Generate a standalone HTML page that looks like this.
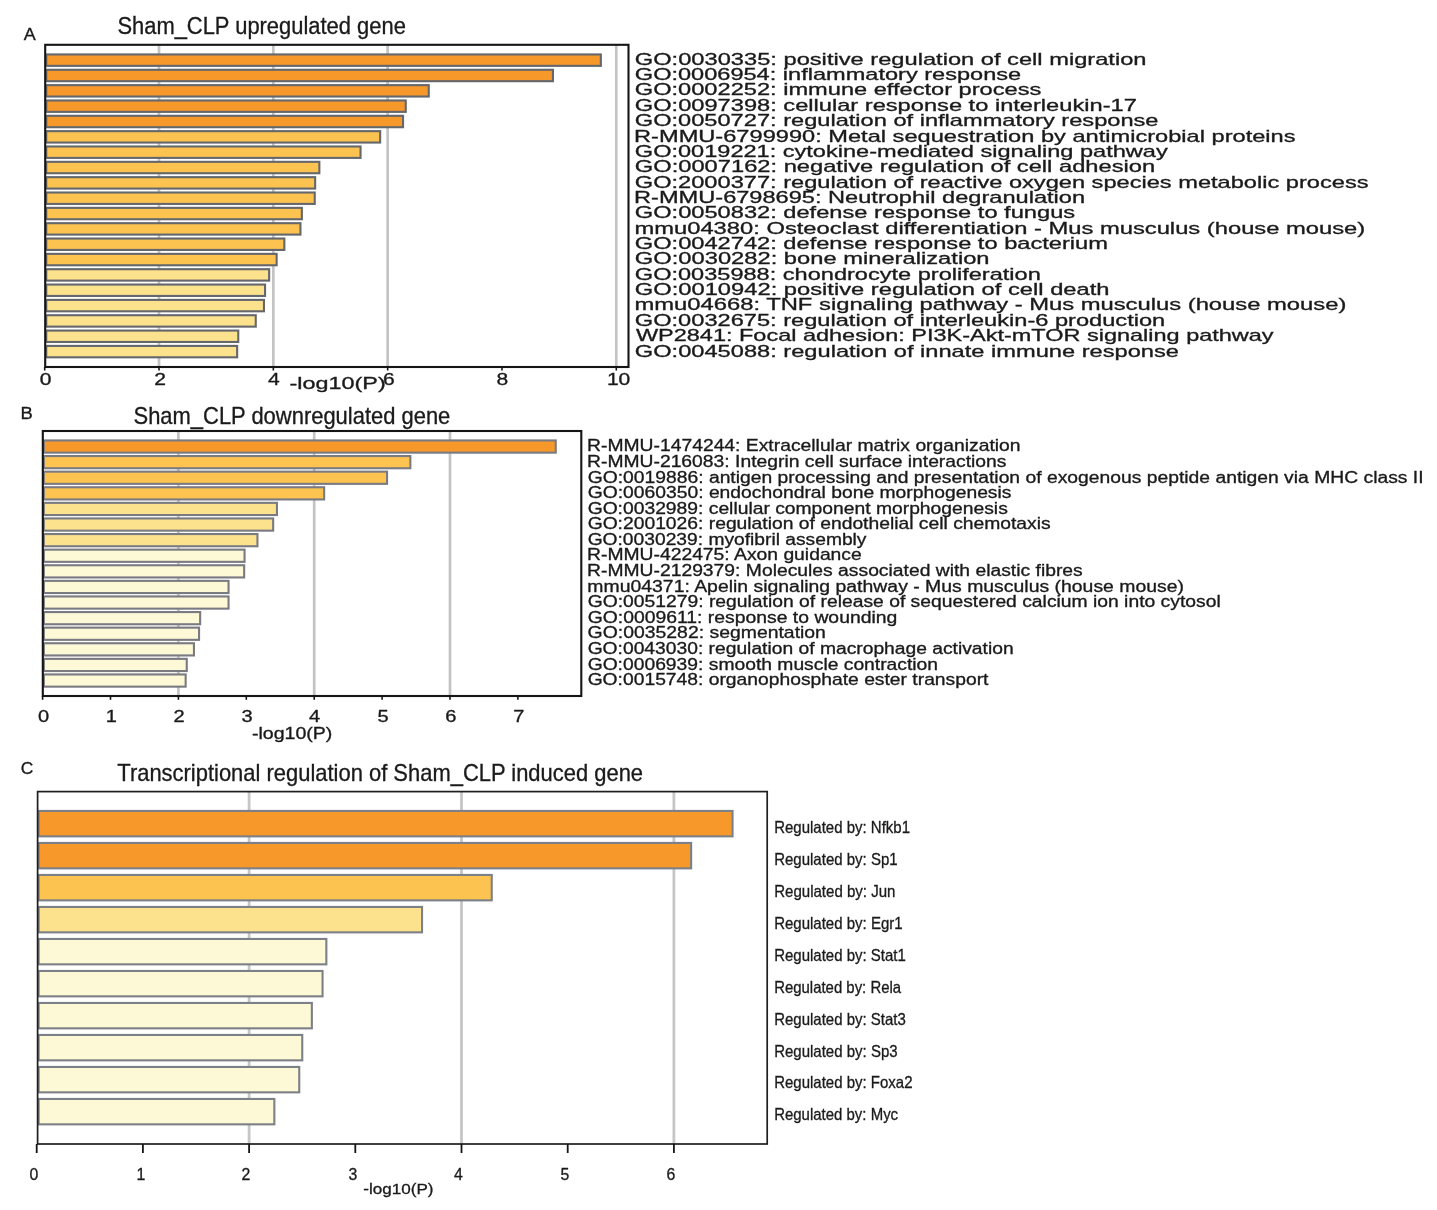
<!DOCTYPE html>
<html><head><meta charset="utf-8"><style>
html,body{margin:0;padding:0;background:#fff;}
body{width:1437px;height:1210px;overflow:hidden;}
svg{display:block;}
text{font-family:"Liberation Sans",sans-serif;white-space:pre;}
svg{filter:blur(0.4px);}
</style></head><body>
<svg width="1437" height="1210" viewBox="0 0 1437 1210">
<rect x="0" y="0" width="1437" height="1210" fill="#fff"/>
<line x1="159.02" y1="44.80" x2="159.02" y2="367.00" stroke="#c4c4c4" stroke-width="2.7"/>
<line x1="273.34" y1="44.80" x2="273.34" y2="367.00" stroke="#c4c4c4" stroke-width="2.7"/>
<line x1="387.66" y1="44.80" x2="387.66" y2="367.00" stroke="#c4c4c4" stroke-width="2.7"/>
<line x1="616.30" y1="44.80" x2="616.30" y2="367.00" stroke="#c4c4c4" stroke-width="2.7"/>
<rect x="46.25" y="54.45" width="554.60" height="11.40" fill="#F7982B" stroke="#64676c" stroke-width="2.1"/>
<rect x="46.25" y="69.79" width="506.70" height="11.40" fill="#F7982B" stroke="#64676c" stroke-width="2.1"/>
<rect x="46.25" y="85.13" width="382.50" height="11.40" fill="#F7982B" stroke="#64676c" stroke-width="2.1"/>
<rect x="46.25" y="100.47" width="359.50" height="11.40" fill="#F7982B" stroke="#64676c" stroke-width="2.1"/>
<rect x="46.25" y="115.81" width="356.80" height="11.40" fill="#F7982B" stroke="#64676c" stroke-width="2.1"/>
<rect x="46.25" y="131.15" width="333.90" height="11.40" fill="#FDC350" stroke="#64676c" stroke-width="2.1"/>
<rect x="46.25" y="146.49" width="314.30" height="11.40" fill="#FDC350" stroke="#64676c" stroke-width="2.1"/>
<rect x="46.25" y="161.83" width="273.10" height="11.40" fill="#FDC350" stroke="#64676c" stroke-width="2.1"/>
<rect x="46.25" y="177.17" width="268.90" height="11.40" fill="#FDC350" stroke="#64676c" stroke-width="2.1"/>
<rect x="46.25" y="192.51" width="268.50" height="11.40" fill="#FDC350" stroke="#64676c" stroke-width="2.1"/>
<rect x="46.25" y="207.85" width="255.60" height="11.40" fill="#FDC350" stroke="#64676c" stroke-width="2.1"/>
<rect x="46.25" y="223.19" width="254.20" height="11.40" fill="#FDC350" stroke="#64676c" stroke-width="2.1"/>
<rect x="46.25" y="238.53" width="238.10" height="11.40" fill="#FDC350" stroke="#64676c" stroke-width="2.1"/>
<rect x="46.25" y="253.87" width="230.40" height="11.40" fill="#FDC350" stroke="#64676c" stroke-width="2.1"/>
<rect x="46.25" y="269.21" width="222.90" height="11.40" fill="#FDE28D" stroke="#64676c" stroke-width="2.1"/>
<rect x="46.25" y="284.55" width="218.80" height="11.40" fill="#FDE28D" stroke="#64676c" stroke-width="2.1"/>
<rect x="46.25" y="299.89" width="217.70" height="11.40" fill="#FDE28D" stroke="#64676c" stroke-width="2.1"/>
<rect x="46.25" y="315.23" width="209.50" height="11.40" fill="#FDE28D" stroke="#64676c" stroke-width="2.1"/>
<rect x="46.25" y="330.57" width="192.00" height="11.40" fill="#FDE28D" stroke="#64676c" stroke-width="2.1"/>
<rect x="46.25" y="345.91" width="190.90" height="11.40" fill="#FDE28D" stroke="#64676c" stroke-width="2.1"/>
<rect x="45.20" y="44.80" width="583.30" height="322.20" fill="none" stroke="#151515" stroke-width="2.1"/>
<line x1="44.70" y1="367.00" x2="44.70" y2="370.50" stroke="#151515" stroke-width="1.6"/>
<line x1="159.02" y1="367.00" x2="159.02" y2="370.50" stroke="#151515" stroke-width="1.6"/>
<line x1="273.34" y1="367.00" x2="273.34" y2="370.50" stroke="#151515" stroke-width="1.6"/>
<line x1="387.66" y1="367.00" x2="387.66" y2="370.50" stroke="#151515" stroke-width="1.6"/>
<line x1="501.98" y1="367.00" x2="501.98" y2="370.50" stroke="#151515" stroke-width="1.6"/>
<line x1="616.30" y1="367.00" x2="616.30" y2="370.50" stroke="#151515" stroke-width="1.6"/>
<line x1="178.40" y1="431.00" x2="178.40" y2="696.00" stroke="#c4c4c4" stroke-width="2.7"/>
<line x1="314.20" y1="431.00" x2="314.20" y2="696.00" stroke="#c4c4c4" stroke-width="2.7"/>
<line x1="450.00" y1="431.00" x2="450.00" y2="696.00" stroke="#c4c4c4" stroke-width="2.7"/>
<rect x="43.85" y="440.45" width="511.90" height="12.20" fill="#F7982B" stroke="#7a7b82" stroke-width="2.1"/>
<rect x="43.85" y="456.05" width="366.50" height="12.20" fill="#FDC350" stroke="#7a7b82" stroke-width="2.1"/>
<rect x="43.85" y="471.65" width="343.20" height="12.20" fill="#FDC350" stroke="#7a7b82" stroke-width="2.1"/>
<rect x="43.85" y="487.25" width="280.30" height="12.20" fill="#FDC350" stroke="#7a7b82" stroke-width="2.1"/>
<rect x="43.85" y="502.85" width="233.10" height="12.20" fill="#FDE28D" stroke="#7a7b82" stroke-width="2.1"/>
<rect x="43.85" y="518.45" width="229.30" height="12.20" fill="#FDE28D" stroke="#7a7b82" stroke-width="2.1"/>
<rect x="43.85" y="534.05" width="213.60" height="12.20" fill="#FDE28D" stroke="#7a7b82" stroke-width="2.1"/>
<rect x="43.85" y="549.65" width="200.70" height="12.20" fill="#FDF8D6" stroke="#7a7b82" stroke-width="2.1"/>
<rect x="43.85" y="565.25" width="200.30" height="12.20" fill="#FDF8D6" stroke="#7a7b82" stroke-width="2.1"/>
<rect x="43.85" y="580.85" width="184.70" height="12.20" fill="#FDF8D6" stroke="#7a7b82" stroke-width="2.1"/>
<rect x="43.85" y="596.45" width="184.70" height="12.20" fill="#FDF8D6" stroke="#7a7b82" stroke-width="2.1"/>
<rect x="43.85" y="612.05" width="156.30" height="12.20" fill="#FDF8D6" stroke="#7a7b82" stroke-width="2.1"/>
<rect x="43.85" y="627.65" width="155.20" height="12.20" fill="#FDF8D6" stroke="#7a7b82" stroke-width="2.1"/>
<rect x="43.85" y="643.25" width="150.10" height="12.20" fill="#FDF8D6" stroke="#7a7b82" stroke-width="2.1"/>
<rect x="43.85" y="658.85" width="142.90" height="12.20" fill="#FDF8D6" stroke="#7a7b82" stroke-width="2.1"/>
<rect x="43.85" y="674.45" width="141.80" height="12.20" fill="#FDF8D6" stroke="#7a7b82" stroke-width="2.1"/>
<rect x="42.80" y="431.00" width="538.50" height="265.00" fill="none" stroke="#151515" stroke-width="2.1"/>
<line x1="42.60" y1="696.00" x2="42.60" y2="699.80" stroke="#151515" stroke-width="1.6"/>
<line x1="110.50" y1="696.00" x2="110.50" y2="699.80" stroke="#151515" stroke-width="1.6"/>
<line x1="178.40" y1="696.00" x2="178.40" y2="699.80" stroke="#151515" stroke-width="1.6"/>
<line x1="246.30" y1="696.00" x2="246.30" y2="699.80" stroke="#151515" stroke-width="1.6"/>
<line x1="314.20" y1="696.00" x2="314.20" y2="699.80" stroke="#151515" stroke-width="1.6"/>
<line x1="382.10" y1="696.00" x2="382.10" y2="699.80" stroke="#151515" stroke-width="1.6"/>
<line x1="450.00" y1="696.00" x2="450.00" y2="699.80" stroke="#151515" stroke-width="1.6"/>
<line x1="517.90" y1="696.00" x2="517.90" y2="699.80" stroke="#151515" stroke-width="1.6"/>
<line x1="249.10" y1="791.60" x2="249.10" y2="1144.00" stroke="#c6c6c6" stroke-width="2.8"/>
<line x1="461.50" y1="791.60" x2="461.50" y2="1144.00" stroke="#c6c6c6" stroke-width="2.8"/>
<line x1="673.90" y1="791.60" x2="673.90" y2="1144.00" stroke="#c6c6c6" stroke-width="2.8"/>
<rect x="38.65" y="810.95" width="693.90" height="25.40" fill="#F7982B" stroke="#7c8087" stroke-width="2.1"/>
<rect x="38.65" y="842.95" width="652.50" height="25.40" fill="#F7982B" stroke="#7c8087" stroke-width="2.1"/>
<rect x="38.65" y="874.95" width="453.10" height="25.40" fill="#FDC350" stroke="#7c8087" stroke-width="2.1"/>
<rect x="38.65" y="906.95" width="383.40" height="25.40" fill="#FDE28D" stroke="#7c8087" stroke-width="2.1"/>
<rect x="38.65" y="938.95" width="287.70" height="25.40" fill="#FDF8D6" stroke="#7c8087" stroke-width="2.1"/>
<rect x="38.65" y="970.95" width="283.90" height="25.40" fill="#FDF8D6" stroke="#7c8087" stroke-width="2.1"/>
<rect x="38.65" y="1002.95" width="273.20" height="25.40" fill="#FDF8D6" stroke="#7c8087" stroke-width="2.1"/>
<rect x="38.65" y="1034.95" width="263.60" height="25.40" fill="#FDF8D6" stroke="#7c8087" stroke-width="2.1"/>
<rect x="38.65" y="1066.95" width="260.60" height="25.40" fill="#FDF8D6" stroke="#7c8087" stroke-width="2.1"/>
<rect x="38.65" y="1098.95" width="235.70" height="25.40" fill="#FDF8D6" stroke="#7c8087" stroke-width="2.1"/>
<rect x="37.60" y="791.60" width="729.60" height="352.40" fill="none" stroke="#1e1e1e" stroke-width="1.7"/>
<line x1="36.70" y1="1144.00" x2="36.70" y2="1153.00" stroke="#151515" stroke-width="1.8"/>
<line x1="142.90" y1="1144.00" x2="142.90" y2="1153.00" stroke="#151515" stroke-width="1.8"/>
<line x1="249.10" y1="1144.00" x2="249.10" y2="1153.00" stroke="#151515" stroke-width="1.8"/>
<line x1="355.30" y1="1144.00" x2="355.30" y2="1153.00" stroke="#151515" stroke-width="1.8"/>
<line x1="461.50" y1="1144.00" x2="461.50" y2="1153.00" stroke="#151515" stroke-width="1.8"/>
<line x1="567.70" y1="1144.00" x2="567.70" y2="1153.00" stroke="#151515" stroke-width="1.8"/>
<line x1="673.90" y1="1144.00" x2="673.90" y2="1153.00" stroke="#151515" stroke-width="1.8"/>
<text transform="translate(39.79,385.10) scale(1.3000,1)" font-size="16.2" fill="#1a1a1a" stroke="#1a1a1a" stroke-width="0.32">0</text>
<text transform="translate(154.14,385.10) scale(1.3000,1)" font-size="16.2" fill="#1a1a1a" stroke="#1a1a1a" stroke-width="0.32">2</text>
<text transform="translate(268.01,385.10) scale(1.3000,1)" font-size="16.2" fill="#1a1a1a" stroke="#1a1a1a" stroke-width="0.32">4</text>
<text transform="translate(383.07,385.10) scale(1.3000,1)" font-size="16.2" fill="#1a1a1a" stroke="#1a1a1a" stroke-width="0.32">6</text>
<text transform="translate(496.54,385.10) scale(1.3000,1)" font-size="16.2" fill="#1a1a1a" stroke="#1a1a1a" stroke-width="0.32">8</text>
<text transform="translate(606.90,385.10) scale(1.3000,1)" font-size="16.2" fill="#1a1a1a" stroke="#1a1a1a" stroke-width="0.32">10</text>
<text transform="translate(289.56,389.10) scale(1.4348,1)" font-size="16.3" fill="#1a1a1a" stroke="#1a1a1a" stroke-width="0.32">-log10(P)</text>
<text transform="translate(117.40,33.60) scale(0.9453,1)" font-size="23.2" fill="#1a1a1a" stroke="#1a1a1a" stroke-width="0.32">Sham_CLP upregulated gene</text>
<text transform="translate(23.76,39.50) scale(1.0682,1)" font-size="16.8" fill="#1a1a1a" stroke="#1a1a1a" stroke-width="0.32">A</text>
<text transform="translate(634.81,64.70) scale(1.4259,1)" font-size="16.6" fill="#1a1a1a" stroke="#1a1a1a" stroke-width="0.32">GO:0030335: positive regulation of cell migration</text>
<text transform="translate(634.81,80.06) scale(1.4200,1)" font-size="16.6" fill="#1a1a1a" stroke="#1a1a1a" stroke-width="0.32">GO:0006954: inflammatory response</text>
<text transform="translate(634.81,95.42) scale(1.4235,1)" font-size="16.6" fill="#1a1a1a" stroke="#1a1a1a" stroke-width="0.32">GO:0002252: immune effector process</text>
<text transform="translate(634.81,110.78) scale(1.4249,1)" font-size="16.6" fill="#1a1a1a" stroke="#1a1a1a" stroke-width="0.32">GO:0097398: cellular response to interleukin-17</text>
<text transform="translate(634.81,126.14) scale(1.4228,1)" font-size="16.6" fill="#1a1a1a" stroke="#1a1a1a" stroke-width="0.32">GO:0050727: regulation of inflammatory response</text>
<text transform="translate(634.06,141.50) scale(1.4232,1)" font-size="16.6" fill="#1a1a1a" stroke="#1a1a1a" stroke-width="0.32">R-MMU-6799990: Metal sequestration by antimicrobial proteins</text>
<text transform="translate(634.82,156.86) scale(1.4187,1)" font-size="16.6" fill="#1a1a1a" stroke="#1a1a1a" stroke-width="0.32">GO:0019221: cytokine-mediated signaling pathway</text>
<text transform="translate(634.81,172.22) scale(1.4282,1)" font-size="16.6" fill="#1a1a1a" stroke="#1a1a1a" stroke-width="0.32">GO:0007162: negative regulation of cell adhesion</text>
<text transform="translate(634.81,187.58) scale(1.4231,1)" font-size="16.6" fill="#1a1a1a" stroke="#1a1a1a" stroke-width="0.32">GO:2000377: regulation of reactive oxygen species metabolic process</text>
<text transform="translate(634.06,202.94) scale(1.4217,1)" font-size="16.6" fill="#1a1a1a" stroke="#1a1a1a" stroke-width="0.32">R-MMU-6798695: Neutrophil degranulation</text>
<text transform="translate(634.81,218.30) scale(1.4249,1)" font-size="16.6" fill="#1a1a1a" stroke="#1a1a1a" stroke-width="0.32">GO:0050832: defense response to fungus</text>
<text transform="translate(634.42,233.66) scale(1.4313,1)" font-size="16.6" fill="#1a1a1a" stroke="#1a1a1a" stroke-width="0.32">mmu04380: Osteoclast differentiation - Mus musculus (house mouse)</text>
<text transform="translate(634.81,249.02) scale(1.4254,1)" font-size="16.6" fill="#1a1a1a" stroke="#1a1a1a" stroke-width="0.32">GO:0042742: defense response to bacterium</text>
<text transform="translate(634.81,264.38) scale(1.4297,1)" font-size="16.6" fill="#1a1a1a" stroke="#1a1a1a" stroke-width="0.32">GO:0030282: bone mineralization</text>
<text transform="translate(634.81,279.74) scale(1.4197,1)" font-size="16.6" fill="#1a1a1a" stroke="#1a1a1a" stroke-width="0.32">GO:0035988: chondrocyte proliferation</text>
<text transform="translate(634.81,295.10) scale(1.4293,1)" font-size="16.6" fill="#1a1a1a" stroke="#1a1a1a" stroke-width="0.32">GO:0010942: positive regulation of cell death</text>
<text transform="translate(634.42,310.46) scale(1.4337,1)" font-size="16.6" fill="#1a1a1a" stroke="#1a1a1a" stroke-width="0.32">mmu04668: TNF signaling pathway - Mus musculus (house mouse)</text>
<text transform="translate(634.81,325.82) scale(1.4241,1)" font-size="16.6" fill="#1a1a1a" stroke="#1a1a1a" stroke-width="0.32">GO:0032675: regulation of interleukin-6 production</text>
<text transform="translate(635.90,341.18) scale(1.4151,1)" font-size="16.6" fill="#1a1a1a" stroke="#1a1a1a" stroke-width="0.32">WP2841: Focal adhesion: PI3K-Akt-mTOR signaling pathway</text>
<text transform="translate(634.81,356.54) scale(1.4251,1)" font-size="16.6" fill="#1a1a1a" stroke="#1a1a1a" stroke-width="0.32">GO:0045088: regulation of innate immune response</text>
<text transform="translate(38.02,721.90) scale(1.1800,1)" font-size="17.0" fill="#1a1a1a" stroke="#1a1a1a" stroke-width="0.32">0</text>
<text transform="translate(105.65,721.90) scale(1.1800,1)" font-size="17.0" fill="#1a1a1a" stroke="#1a1a1a" stroke-width="0.32">1</text>
<text transform="translate(173.42,721.90) scale(1.1800,1)" font-size="17.0" fill="#1a1a1a" stroke="#1a1a1a" stroke-width="0.32">2</text>
<text transform="translate(241.48,721.90) scale(1.1800,1)" font-size="17.0" fill="#1a1a1a" stroke="#1a1a1a" stroke-width="0.32">3</text>
<text transform="translate(308.98,721.90) scale(1.1800,1)" font-size="17.0" fill="#1a1a1a" stroke="#1a1a1a" stroke-width="0.32">4</text>
<text transform="translate(377.44,721.90) scale(1.1800,1)" font-size="17.0" fill="#1a1a1a" stroke="#1a1a1a" stroke-width="0.32">5</text>
<text transform="translate(445.15,721.90) scale(1.1800,1)" font-size="17.0" fill="#1a1a1a" stroke="#1a1a1a" stroke-width="0.32">6</text>
<text transform="translate(513.21,721.90) scale(1.1800,1)" font-size="17.0" fill="#1a1a1a" stroke="#1a1a1a" stroke-width="0.32">7</text>
<text transform="translate(251.93,738.60) scale(1.2080,1)" font-size="16.2" fill="#1a1a1a" stroke="#1a1a1a" stroke-width="0.32">-log10(P)</text>
<text transform="translate(133.50,423.60) scale(0.9461,1)" font-size="23.2" fill="#1a1a1a" stroke="#1a1a1a" stroke-width="0.32">Sham_CLP downregulated gene</text>
<text transform="translate(20.49,419.20) scale(1.1091,1)" font-size="16.6" fill="#1a1a1a" stroke="#1a1a1a" stroke-width="0.32">B</text>
<text transform="translate(587.01,451.40) scale(1.1787,1)" font-size="16.4" fill="#1a1a1a" stroke="#1a1a1a" stroke-width="0.32">R-MMU-1474244: Extracellular matrix organization</text>
<text transform="translate(587.02,466.98) scale(1.1773,1)" font-size="16.4" fill="#1a1a1a" stroke="#1a1a1a" stroke-width="0.32">R-MMU-216083: Integrin cell surface interactions</text>
<text transform="translate(587.63,482.56) scale(1.1776,1)" font-size="16.4" fill="#1a1a1a" stroke="#1a1a1a" stroke-width="0.32">GO:0019886: antigen processing and presentation of exogenous peptide antigen via MHC class II</text>
<text transform="translate(587.63,498.14) scale(1.1772,1)" font-size="16.4" fill="#1a1a1a" stroke="#1a1a1a" stroke-width="0.32">GO:0060350: endochondral bone morphogenesis</text>
<text transform="translate(587.63,513.72) scale(1.1768,1)" font-size="16.4" fill="#1a1a1a" stroke="#1a1a1a" stroke-width="0.32">GO:0032989: cellular component morphogenesis</text>
<text transform="translate(587.63,529.30) scale(1.1768,1)" font-size="16.4" fill="#1a1a1a" stroke="#1a1a1a" stroke-width="0.32">GO:2001026: regulation of endothelial cell chemotaxis</text>
<text transform="translate(587.63,544.88) scale(1.1732,1)" font-size="16.4" fill="#1a1a1a" stroke="#1a1a1a" stroke-width="0.32">GO:0030239: myofibril assembly</text>
<text transform="translate(587.02,560.46) scale(1.1781,1)" font-size="16.4" fill="#1a1a1a" stroke="#1a1a1a" stroke-width="0.32">R-MMU-422475: Axon guidance</text>
<text transform="translate(587.02,576.04) scale(1.1780,1)" font-size="16.4" fill="#1a1a1a" stroke="#1a1a1a" stroke-width="0.32">R-MMU-2129379: Molecules associated with elastic fibres</text>
<text transform="translate(587.31,591.62) scale(1.1839,1)" font-size="16.4" fill="#1a1a1a" stroke="#1a1a1a" stroke-width="0.32">mmu04371: Apelin signaling pathway - Mus musculus (house mouse)</text>
<text transform="translate(587.63,607.20) scale(1.1775,1)" font-size="16.4" fill="#1a1a1a" stroke="#1a1a1a" stroke-width="0.32">GO:0051279: regulation of release of sequestered calcium ion into cytosol</text>
<text transform="translate(587.63,622.78) scale(1.1813,1)" font-size="16.4" fill="#1a1a1a" stroke="#1a1a1a" stroke-width="0.32">GO:0009611: response to wounding</text>
<text transform="translate(587.62,638.36) scale(1.1837,1)" font-size="16.4" fill="#1a1a1a" stroke="#1a1a1a" stroke-width="0.32">GO:0035282: segmentation</text>
<text transform="translate(587.63,653.94) scale(1.1752,1)" font-size="16.4" fill="#1a1a1a" stroke="#1a1a1a" stroke-width="0.32">GO:0043030: regulation of macrophage activation</text>
<text transform="translate(587.63,669.52) scale(1.1766,1)" font-size="16.4" fill="#1a1a1a" stroke="#1a1a1a" stroke-width="0.32">GO:0006939: smooth muscle contraction</text>
<text transform="translate(587.63,685.10) scale(1.1763,1)" font-size="16.4" fill="#1a1a1a" stroke="#1a1a1a" stroke-width="0.32">GO:0015748: organophosphate ester transport</text>
<text transform="translate(29.40,1180.10) scale(0.9700,1)" font-size="16.3" fill="#1a1a1a" stroke="#1a1a1a" stroke-width="0.32">0</text>
<text transform="translate(136.39,1180.10) scale(0.9700,1)" font-size="16.3" fill="#1a1a1a" stroke="#1a1a1a" stroke-width="0.32">1</text>
<text transform="translate(241.60,1180.10) scale(0.9700,1)" font-size="16.3" fill="#1a1a1a" stroke="#1a1a1a" stroke-width="0.32">2</text>
<text transform="translate(348.45,1180.10) scale(0.9700,1)" font-size="16.3" fill="#1a1a1a" stroke="#1a1a1a" stroke-width="0.32">3</text>
<text transform="translate(453.95,1180.10) scale(0.9700,1)" font-size="16.3" fill="#1a1a1a" stroke="#1a1a1a" stroke-width="0.32">4</text>
<text transform="translate(560.42,1180.10) scale(0.9700,1)" font-size="16.3" fill="#1a1a1a" stroke="#1a1a1a" stroke-width="0.32">5</text>
<text transform="translate(666.45,1180.10) scale(0.9700,1)" font-size="16.3" fill="#1a1a1a" stroke="#1a1a1a" stroke-width="0.32">6</text>
<text transform="translate(363.24,1194.10) scale(1.1031,1)" font-size="15.5" fill="#1a1a1a" stroke="#1a1a1a" stroke-width="0.32">-log10(P)</text>
<text transform="translate(117.31,780.90) scale(0.9460,1)" font-size="23.2" fill="#1a1a1a" stroke="#1a1a1a" stroke-width="0.32">Transcriptional regulation of Sham_CLP induced gene</text>
<text transform="translate(20.82,773.50) scale(1.0217,1)" font-size="17.0" fill="#1a1a1a" stroke="#1a1a1a" stroke-width="0.32">C</text>
<text transform="translate(774.17,833.10) scale(0.8874,1)" font-size="16.9" fill="#1a1a1a" stroke="#1a1a1a" stroke-width="0.32">Regulated by: Nfkb1</text>
<text transform="translate(774.17,865.02) scale(0.8887,1)" font-size="16.9" fill="#1a1a1a" stroke="#1a1a1a" stroke-width="0.32">Regulated by: Sp1</text>
<text transform="translate(774.17,896.94) scale(0.8908,1)" font-size="16.9" fill="#1a1a1a" stroke="#1a1a1a" stroke-width="0.32">Regulated by: Jun</text>
<text transform="translate(774.17,928.86) scale(0.8881,1)" font-size="16.9" fill="#1a1a1a" stroke="#1a1a1a" stroke-width="0.32">Regulated by: Egr1</text>
<text transform="translate(774.17,960.78) scale(0.8878,1)" font-size="16.9" fill="#1a1a1a" stroke="#1a1a1a" stroke-width="0.32">Regulated by: Stat1</text>
<text transform="translate(774.18,992.70) scale(0.8831,1)" font-size="16.9" fill="#1a1a1a" stroke="#1a1a1a" stroke-width="0.32">Regulated by: Rela</text>
<text transform="translate(774.17,1024.62) scale(0.8873,1)" font-size="16.9" fill="#1a1a1a" stroke="#1a1a1a" stroke-width="0.32">Regulated by: Stat3</text>
<text transform="translate(774.17,1056.54) scale(0.8882,1)" font-size="16.9" fill="#1a1a1a" stroke="#1a1a1a" stroke-width="0.32">Regulated by: Sp3</text>
<text transform="translate(774.17,1088.46) scale(0.8873,1)" font-size="16.9" fill="#1a1a1a" stroke="#1a1a1a" stroke-width="0.32">Regulated by: Foxa2</text>
<text transform="translate(774.17,1120.38) scale(0.8862,1)" font-size="16.9" fill="#1a1a1a" stroke="#1a1a1a" stroke-width="0.32">Regulated by: Myc</text>
</svg>
</body></html>
